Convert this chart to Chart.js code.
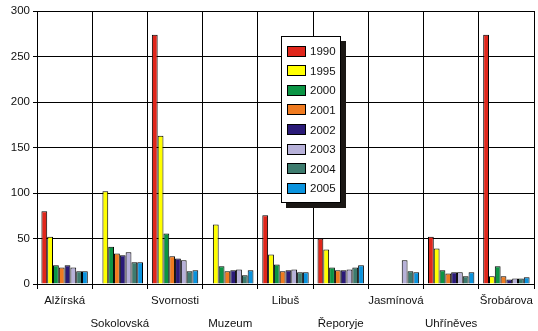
<!DOCTYPE html>
<html>
<head>
<meta charset="utf-8">
<script src="https://cdn.jsdelivr.net/npm/chart.js@4.4.1/dist/chart.umd.min.js"></script>
<style>
  html, body { margin: 0; padding: 0; background: #fff; }
  #wrap { width: 538px; height: 331px; }
</style>
</head>
<body>
<div id="wrap"><canvas id="chart" width="538" height="331"></canvas></div>
<script>
// categories (stations)
const categories = ['Alžírská', 'Sokolovská', 'Svornosti', 'Muzeum', 'Libuš', 'Řeporyje', 'Jasmínová', 'Uhříněves', 'Šrobárova'];
const years = ['1990', '1995', '2000', '2001', '2002', '2003', '2004', '2005'];

// values per year, one entry per category (null = no bar)
const v1990 = [80, null, 274, null, 75.5, 50, null, 52, 274];
const v1995 = [52, 102, 163, 65.5, 32.5, 38, null, 39, 8.5];
const v2000 = [20.5, 41, 55.5, 19.5, 21.5, 18, null, 15, 19.5];
const v2001 = [18, 33.5, 30.5, 14, 14, 15, null, 11.5, 8.5];
const v2002 = [20.5, 31.5, 28, 15, 15, 15, null, 13, 5];
const v2003 = [18, 35, 26, 16, 16, 16, 26, 13, 6];
const v2004 = [14, 24, 14, 9.5, 13, 18, 14, 8.5, 6];
const v2005 = [14, 24, 15, 15, 13, 20.5, 13, 13, 7.5];

const yTicks = [0, 50, 100, 150, 200, 250, 300];

const colors = ['#e0261b', '#ffff00', '#0b9444', '#ef7a1f', '#2a1a78', '#b7b1d9', '#3d7b6e', '#0a93de'];
const seriesValues = [v1990, v1995, v2000, v2001, v2002, v2003, v2004, v2005];

const FONT = 'Liberation Sans, Arial, sans-serif';

// legend box drawn over the plot, with the dark drop shadow
const boxLegend = {
    id: 'boxLegend',
    afterDraw(chart) {
        const ctx = chart.ctx;
        const x = 281, y = 36, w = 60, h = 167;
        ctx.save();
        ctx.fillStyle = '#1a1714';
        ctx.fillRect(x + 5, y + 5, w, h);
        ctx.fillStyle = '#fff';
        ctx.fillRect(x, y, w, h);
        ctx.strokeStyle = '#000';
        ctx.lineWidth = 1;
        ctx.strokeRect(x + 0.5, y + 0.5, w - 1, h - 1);
        ctx.font = '11.5px ' + FONT;
        ctx.textBaseline = 'middle';
        chart.data.datasets.forEach((ds, i) => {
            const cy = y + 15 + i * 19.6;
            ctx.fillStyle = ds.backgroundColor;
            ctx.fillRect(x + 6, Math.round(cy - 5.5), 19, 11);
            ctx.strokeStyle = '#000';
            ctx.strokeRect(x + 6.5, Math.round(cy - 5.5) + 0.5, 18, 10);
            ctx.fillStyle = '#111';
            ctx.fillText(ds.label, x + 29, cy + 1);
        });
        ctx.restore();
    }
};

new Chart(document.getElementById('chart'), {
    type: 'bar',
    data: {
        labels: categories,
        datasets: years.map((yr, i) => ({
            label: yr,
            data: seriesValues[i],
            backgroundColor: colors[i],
            borderColor: '#000',
            borderWidth: 1,
            borderSkipped: 'bottom',
            categoryPercentage: 0.84,
            barPercentage: 1
        }))
    },
    options: {
        responsive: false,
        animation: false,
        layout: { padding: { top: 11, right: 4, left: 0, bottom: 0 } },
        plugins: {
            legend: { display: false },
            tooltip: { enabled: false }
        },
        scales: {
            x: {
                grid: { color: '#000', lineWidth: 1, tickLength: 5, offset: true, drawTicks: true },
                border: { color: '#000', width: 1 },
                ticks: {
                    color: '#111',
                    font: { family: FONT, size: 11.5, lineHeight: 1.95 },
                    padding: 1,
                    maxRotation: 0,
                    autoSkip: false,
                    // staggered labels: odd categories on a second row
                    callback: (val, idx) => idx % 2 === 0 ? [categories[idx], ''] : ['', categories[idx]]
                },
                afterFit: (scale) => { scale.height = 47; }
            },
            y: {
                min: 0,
                max: 300,
                afterBuildTicks: (scale) => { scale.ticks = yTicks.map(v => ({ value: v })); },
                grid: { color: '#000', lineWidth: 1, tickLength: 4 },
                border: { color: '#000', width: 1 },
                ticks: {
                    color: '#111',
                    font: { family: FONT, size: 11.5 },
                    padding: 3
                },
                afterFit: (scale) => { scale.width = 37; }
            }
        }
    },
    plugins: [boxLegend]
});
</script>
</body>
</html>
